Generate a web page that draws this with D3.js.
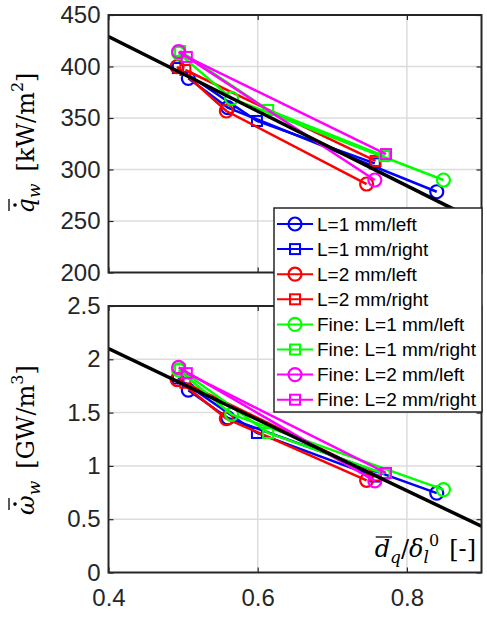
<!DOCTYPE html>
<html><head><meta charset="utf-8">
<script src="https://cdn.jsdelivr.net/npm/d3@7"></script>
<style>body{margin:0;background:#fff}</style>
</head><body>
<svg id="c" width="487" height="619" xmlns="http://www.w3.org/2000/svg"></svg>
<script>
// ---------- data ----------
const seriesNames = ["L=1 mm/left","L=1 mm/right","L=2 mm/left","L=2 mm/right",
  "Fine: L=1 mm/left","Fine: L=1 mm/right","Fine: L=2 mm/left","Fine: L=2 mm/right"];
const seriesColors = ["#0000ff","#0000ff","#ff0000","#ff0000","#00ff00","#00ff00","#ff00ff","#ff00ff"];
const seriesMarkers = ["circle","square","circle","square","circle","square","circle","square"];
// x = d_q / delta_l^0
const xL1left  = [0.507, 0.560, 0.840];
const xL1right = [0.493, 0.599, 0.757];
const xL2left  = [0.492, 0.558, 0.746];
const xL2right = [0.503, 0.758];
const xF1left  = [0.494, 0.565, 0.849];
const xF1right = [0.496, 0.614, 0.770];
const xF2left  = [0.494, 0.757];
const xF2right = [0.505, 0.772];
// top: heat flux q_w [kW/m^2]
const qL1left  = [388.5, 360, 278.4];
const qL1right = [398.5, 347.1, 306];
const qL2left  = [399.8, 356.8, 285.9];
const qL2right = [396.6, 308.3];
const qF1left  = [413, 369, 289.8];
const qF1right = [415, 357.8, 313];
const qF2left  = [414.4, 289.8];
const qF2right = [409.3, 315];
// bottom: omega_w [GW/m^3]
const wL1left  = [1.71, 1.45, 0.745];
const wL1right = [1.82, 1.309, 0.90];
const wL2left  = [1.81, 1.444, 0.865];
const wL2right = [1.78, 0.91];
const wF1left  = [1.90, 1.484, 0.778];
const wF1right = [1.906, 1.309, 0.925];
const wF2left  = [1.925, 0.859];
const wF2right = [1.87, 0.934];
// black fit lines
const fitX = [0.4, 0.9];
const fitQ = [429, 248];
const fitW = [2.10, 0.434];
// ticks
const xTicks = [0.4, 0.6, 0.8];
const xTickLabels = ["0.4","0.6","0.8"];
const qTicks = [200,250,300,350,400,450];
const wTicks = [0,0.5,1,1.5,2,2.5];
const wTickLabels = ["0","0.5","1","1.5","2","2.5"];

const xs = [xL1left,xL1right,xL2left,xL2right,xF1left,xF1right,xF2left,xF2right];
const qs = [qL1left,qL1right,qL2left,qL2right,qF1left,qF1right,qF2left,qF2right];
const ws = [wL1left,wL1right,wL2left,wL2right,wF1left,wF1right,wF2left,wF2right];

// ---------- scales ----------
const svg = d3.select("#c");
const x = d3.scaleLinear().domain([0.4,0.9]).range([108.5,481.5]);
const yTop = d3.scaleLinear().domain([200,450]).range([272.5,15]);
const yBot = d3.scaleLinear().domain([0,2.5]).range([572.5,306]);
const AX = "#262626";
const tickFont = "'Liberation Sans', Arial, sans-serif";

function drawAxes(y, yTicks, yLabels, showX, id, ys, fitY) {
  const [x0,x1] = x.range();
  const [yb,yt] = y.range();
  const g = svg.append("g");
  // grid
  g.selectAll(".gx").data(xTicks.filter(v=>v>0.4)).enter().append("line")
    .attr("x1",d=>x(d)).attr("x2",d=>x(d)).attr("y1",yt).attr("y2",yb)
    .attr("stroke","#dcdcdc").attr("stroke-width",1.5);
  g.selectAll(".gy").data(yTicks.filter((v,i)=>i>0 && i<yTicks.length-1)).enter().append("line")
    .attr("y1",d=>y(d)).attr("y2",d=>y(d)).attr("x1",x0).attr("x2",x1)
    .attr("stroke","#dcdcdc").attr("stroke-width",1.5);
  // clip
  svg.append("clipPath").attr("id",id).append("rect")
    .attr("x",x0).attr("y",yt).attr("width",x1-x0).attr("height",yb-yt);
  const pg = svg.append("g").attr("clip-path",`url(#${id})`);
  const line = d3.line().x(d=>x(d[0])).y(d=>y(d[1]));
  xs.forEach((xa,i)=>{
    const pts = xa.map((v,j)=>[v, ys[i][j]]);
    pg.append("path").attr("d",line(pts)).attr("fill","none")
      .attr("stroke",seriesColors[i]).attr("stroke-width",2.5);
    pts.forEach(p=>drawMarker(pg, x(p[0]), y(p[1]), seriesMarkers[i], seriesColors[i]));
  });
  pg.append("path").attr("d",line(fitX.map((v,j)=>[v,fitY[j]])))
    .attr("fill","none").attr("stroke","#000").attr("stroke-width",3.5);
  // axes ticks
  const ax = svg.append("g").attr("font-family",tickFont);
  const la = d3.axisLeft(y).tickValues(yTicks).tickSize(-5).tickPadding(8)
    .tickFormat((d,i)=>yLabels[i]);
  ax.append("g").attr("transform",`translate(${x0},0)`).call(la);
  ax.append("g").attr("transform",`translate(${x1},0)`)
    .call(d3.axisRight(y).tickValues(yTicks).tickSize(-5).tickFormat(""));
  ax.append("g").attr("transform",`translate(0,${yt})`)
    .call(d3.axisTop(x).tickValues(xTicks).tickSize(-5).tickFormat(""));
  const bx = d3.axisBottom(x).tickValues(xTicks).tickSize(-5).tickPadding(16)
    .tickFormat((d,i)=>showX ? xTickLabels[i] : "");
  ax.append("g").attr("transform",`translate(0,${yb})`).call(bx);
  ax.selectAll(".domain").remove();
  ax.selectAll(".tick line").attr("stroke",AX).attr("stroke-width",1.2);
  ax.selectAll("text").attr("font-size",24).attr("fill",AX).attr("font-family",tickFont);
  // frame
  svg.append("rect").attr("x",x0).attr("y",yt).attr("width",x1-x0).attr("height",yb-yt)
    .attr("fill","none").attr("stroke",AX).attr("stroke-width",2);
}

function drawMarker(g, cx, cy, type, color) {
  if (type==="circle") {
    g.append("circle").attr("cx",cx).attr("cy",cy).attr("r",6.5)
      .attr("fill","none").attr("stroke",color).attr("stroke-width",2.2);
  } else {
    g.append("rect").attr("x",cx-5).attr("y",cy-5).attr("width",10).attr("height",10)
      .attr("fill","none").attr("stroke",color).attr("stroke-width",2);
  }
}

drawAxes(yTop, qTicks, qTicks.map(String), false, "clipTop", qs, fitQ);
drawAxes(yBot, wTicks, wTickLabels, true, "clipBot", ws, fitW);

// ---------- legend ----------
const lg = svg.append("g");
lg.append("rect").attr("x",274).attr("y",208).attr("width",208).attr("height",204)
  .attr("fill","#fff").attr("stroke",AX).attr("stroke-width",1.5);
seriesNames.forEach((nm,i)=>{
  const cy = 224 + i*25.1;
  lg.append("line").attr("x1",277).attr("x2",313).attr("y1",cy).attr("y2",cy)
    .attr("stroke",seriesColors[i]).attr("stroke-width",2);
  drawMarker(lg, 295, cy, seriesMarkers[i], seriesColors[i]);
  lg.append("text").attr("x",317).attr("y",cy).attr("dy","0.35em")
    .attr("font-family",tickFont).attr("font-size",19).attr("fill","#000").text(nm);
});

// ---------- math labels ----------
const serif = "'DejaVu Serif', 'Liberation Serif', serif";
function yLabel(cx, cy, sym, unit, sup) {
  const g = svg.append("g").attr("transform",`translate(${cx},${cy}) rotate(-90)`);
  const t = g.append("text").attr("text-anchor","middle").attr("font-family",serif)
    .attr("font-size",24).attr("fill","#000");
  t.append("tspan").attr("font-style","italic").text(sym);
  t.append("tspan").attr("font-style","italic").attr("font-size",17).attr("dy",6).text("w");
  t.append("tspan").attr("dy",-6).attr("dx",12).text("[" + unit);
  t.append("tspan").attr("font-size",16).attr("dy",-11).text(sup);
  t.append("tspan").attr("dy",11).text("]");
  const e = t.node().getExtentOfChar(0);
  const mx = e.x + e.width*0.55;
  g.append("circle").attr("cx",mx).attr("cy",-19).attr("r",1.8).attr("fill","#000");
  g.append("line").attr("x1",mx-6).attr("x2",mx+6).attr("y1",-25).attr("y2",-25)
    .attr("stroke","#000").attr("stroke-width",1.3);
}
yLabel(34, 143, "q", "kW/m", "2");
yLabel(34, 440, "ω", "GW/m", "3");

// x label
(function(){
  const t = svg.append("text").attr("x",476).attr("y",557).attr("text-anchor","end")
    .attr("font-family",serif).attr("font-size",24).attr("fill","#000");
  t.append("tspan").attr("font-style","italic").text("d");
  t.append("tspan").attr("font-style","italic").attr("font-size",17).attr("dy",6).text("q");
  t.append("tspan").attr("dy",-6).text("/");
  t.append("tspan").attr("font-style","italic").text("δ");
  t.append("tspan").attr("font-style","italic").attr("font-size",17).attr("dy",6).text("l");
  t.append("tspan").attr("font-size",16).attr("dy",-17).text("0");
  t.append("tspan").attr("dy",11).attr("dx",10).text("[-]");
  const e = t.node().getExtentOfChar(0);
  svg.append("line").attr("x1",e.x+1).attr("x2",e.x+e.width+2).attr("y1",557-20).attr("y2",557-20)
    .attr("stroke","#000").attr("stroke-width",1.3);
})();
</script>
</body></html>
